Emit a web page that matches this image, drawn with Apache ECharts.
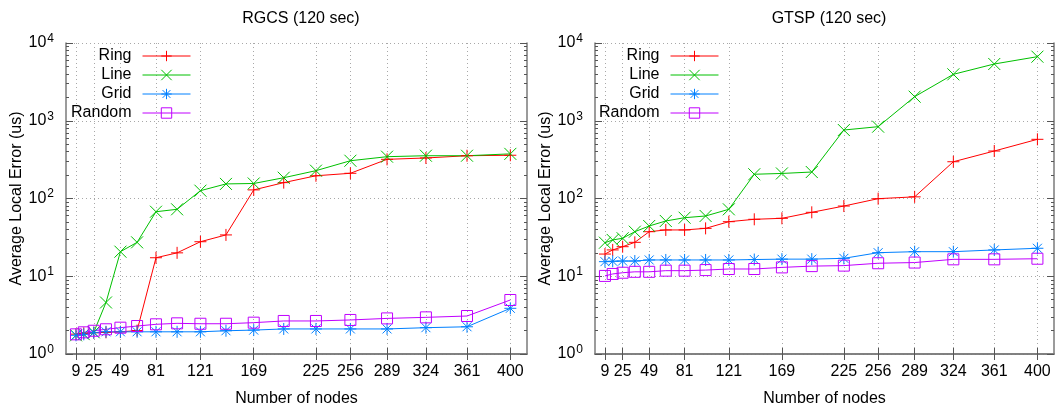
<!DOCTYPE html>
<html>
<head>
<meta charset="utf-8">
<script src="https://cdn.jsdelivr.net/npm/echarts@6/dist/echarts.min.js"></script>
<style>
    html, body { margin: 0; padding: 0; background: #fff; }
    #chart-box { width: 1055px; height: 412px; }
</style>
</head>
<body>
<div id="chart-box"></div>
<script>
// 節點數 (x)
const nodes = [9, 16, 25, 36, 49, 64, 81, 100, 121, 144, 169, 196, 225, 256, 289, 324, 361, 400];
const tickNodes = [9, 25, 49, 81, 121, 169, 225, 256, 289, 324, 361, 400];
const yMinorTicks = [2, 3, 4, 5, 6, 7, 8, 9, 20, 30, 40, 50, 60, 70, 80, 90,
    200, 300, 400, 500, 600, 700, 800, 900, 2000, 3000, 4000, 5000, 6000, 7000, 8000, 9000];

// RGCS (120 sec)
const rgcsRing = [1.8, 1.85, 1.88, 1.9, 1.93, 2.0, 17.3, 20, 27.8, 34, 129, 160, 196, 211, 319, 332, 355, 360];
const rgcsLine = [1.74, 1.8, 1.9, 4.6, 20.7, 27.3, 67.6, 72.6, 126, 154, 156, 185, 228, 306, 345, 355, 355, 375];
const rgcsGrid = [1.74, 1.79, 1.88, 1.93, 1.93, 1.93, 1.93, 1.93, 1.93, 1.99, 2.03, 2.1, 2.1, 2.1, 2.1, 2.18, 2.24, 3.87];
const rgcsRandom = [1.79, 1.9, 1.99, 2.08, 2.18, 2.29, 2.41, 2.48, 2.45, 2.45, 2.53, 2.66, 2.66, 2.74, 2.87, 2.96, 3.08, 4.95];

// GTSP (120 sec)
const gtspRing = [19.3, 21.8, 24, 27.3, 37.4, 39.4, 39.4, 41.3, 50.3, 54, 55.6, 66.4, 80, 99.5, 105, 297, 408, 577];
const gtspLine = [27, 29.3, 30.8, 37.4, 44.3, 51.4, 56.6, 59.6, 72.6, 205, 210, 219, 760, 839, 2040, 3956, 5370, 6670];
const gtspGrid = [15.4, 15.6, 15.7, 15.7, 16.2, 16.2, 16.2, 16.2, 16.2, 16.4, 16.6, 16.6, 17, 20.1, 20.7, 20.7, 21.8, 22.9];
const gtspRandom = [10.1, 10.7, 11.1, 11.4, 11.4, 11.8, 11.8, 12, 12.4, 12.4, 13, 13.5, 13.7, 14.7, 15, 16.5, 16.5, 16.8];

const seriesNames = ['Ring', 'Line', 'Grid', 'Random'];
const panelTitles = ['RGCS (120 sec)', 'GTSP (120 sec)'];

var chartDom = document.getElementById('chart-box');
var myChart = echarts.init(chartDom);
var option;

// gnuplot 風格的點
const markers = {
    Ring: { symbol: 'path://M0,-1 L0,1 M-1,0 L1,0', color: '#ff0000' },
    Line: { symbol: 'path://M-1,-1 L1,1 M-1,1 L1,-1', color: '#00c000' },
    Grid: { symbol: 'path://M0,-1 L0,1 M-1,0 L1,0 M-0.75,-0.75 L0.75,0.75 M-0.75,0.75 L0.75,-0.75', color: '#0080ff' },
    Random: { symbol: 'path://M-1,-1 L1,-1 L1,1 L-1,1 Z', color: '#c000ff' }
};

const fontFamily = '"Liberation Sans", Arial, sans-serif';
const borderColor = '#7a7a7a';
const gridLineStyle = { color: '#a8a8a8', width: 1, type: [1, 3] };

function toPairs(values) {
    return nodes.map((n, i) => [n, values[i]]);
}

const grids = [
    { left: 66, top: 43, width: 461, height: 311 },
    { left: 595, top: 43, width: 459, height: 311 }
];

var xAxes = [];
var yAxes = [];
var series = [];
var legends = [];
var titles = [];

[[rgcsRing, rgcsLine, rgcsGrid, rgcsRandom], [gtspRing, gtspLine, gtspGrid, gtspRandom]].forEach((panel, p) => {
    // 下方 x 軸
    xAxes.push({
        gridIndex: p, type: 'value', min: 0, max: 415, position: 'bottom',
        name: 'Number of nodes', nameLocation: 'middle', nameGap: 37,
        nameTextStyle: { fontSize: 16, color: '#000', fontFamily: fontFamily },
        axisLine: { lineStyle: { color: borderColor, width: 1.5 } },
        axisTick: { inside: true, length: 6, customValues: tickNodes, lineStyle: { color: '#555' } },
        axisLabel: { customValues: tickNodes, margin: 10, fontSize: 16, color: '#000', fontFamily: fontFamily },
        splitLine: { show: true, lineStyle: gridLineStyle }
    });
    // 上方鏡像
    xAxes.push({
        gridIndex: p, type: 'value', min: 0, max: 415, position: 'top',
        axisLine: { lineStyle: { color: borderColor, width: 1.5 } },
        axisTick: { inside: true, length: 6, customValues: tickNodes, lineStyle: { color: '#555' } },
        axisLabel: { show: false },
        splitLine: { show: false }
    });

    // 左側對數軸
    yAxes.push({
        gridIndex: p, type: 'log', logBase: 10, min: 1, max: 10000, position: 'left',
        name: 'Average Local Error (us)', nameLocation: 'middle', nameGap: 40,
        nameTextStyle: { fontSize: 16, color: '#000', fontFamily: fontFamily },
        axisLine: { lineStyle: { color: borderColor, width: 1.5 } },
        axisTick: { inside: true, length: 7, lineStyle: { color: '#555' } },
        axisLabel: {
            margin: 12,
            formatter: function (v) {
                return '{b|10}{s|' + Math.round(Math.log10(v)) + '}';
            },
            rich: {
                b: { fontSize: 16, color: '#000', fontFamily: fontFamily },
                s: { fontSize: 12, color: '#000', fontFamily: fontFamily, padding: [0, 0, 9, 1] }
            }
        },
        splitLine: { show: true, lineStyle: gridLineStyle }
    });
    // 左側小刻度 (log 空間的線性軸)
    yAxes.push({
        gridIndex: p, type: 'value', min: 0, max: 4, position: 'left',
        axisLine: { show: false },
        axisTick: { inside: true, length: 3, customValues: yMinorTicks.map(v => Math.log10(v)), lineStyle: { color: '#555' } },
        axisLabel: { show: false },
        splitLine: { show: false }
    });
    // 右側鏡像
    yAxes.push({
        gridIndex: p, type: 'log', logBase: 10, min: 1, max: 10000, position: 'right',
        axisLine: { lineStyle: { color: borderColor, width: 1.5 } },
        axisTick: { inside: true, length: 7, lineStyle: { color: '#555' } },
        axisLabel: { show: false },
        splitLine: { show: false }
    });
    yAxes.push({
        gridIndex: p, type: 'value', min: 0, max: 4, position: 'right',
        axisLine: { show: false },
        axisTick: { inside: true, length: 3, customValues: yMinorTicks.map(v => Math.log10(v)), lineStyle: { color: '#555' } },
        axisLabel: { show: false },
        splitLine: { show: false }
    });

    panel.forEach((values, k) => {
        var m = markers[seriesNames[k]];
        series.push({
            name: seriesNames[k],
            type: 'line',
            xAxisIndex: p * 2,
            yAxisIndex: p * 4,
            data: toPairs(values),
            symbol: m.symbol,
            symbolSize: k === 3 ? 11 : 12,
            showAllSymbol: true,
            lineStyle: { color: m.color, width: 1 },
            itemStyle: { color: 'rgba(0,0,0,0)', borderColor: m.color, borderWidth: 1 },
            emphasis: { disabled: true },
            animation: false
        });
    });

    legends.push({
        orient: 'vertical',
        align: 'right',
        right: p === 0 ? 864 : 336,
        top: 48,
        padding: 0,
        itemWidth: 48,
        itemHeight: 13,
        itemGap: 3,
        data: seriesNames,
        lineStyle: { width: 1 },
        itemStyle: { borderWidth: 1 },
        textStyle: { fontSize: 16, color: '#000', fontFamily: fontFamily, padding: [0, 6, 0, 0] }
    });

    titles.push({
        text: panelTitles[p],
        left: p === 0 ? 296 : 824,
        textAlign: 'center',
        top: 6,
        textStyle: { fontSize: 16, fontWeight: 'normal', color: '#000', fontFamily: fontFamily }
    });
});

option = {
    backgroundColor: '#fff',
    animation: false,
    title: titles,
    legend: legends,
    grid: grids,
    xAxis: xAxes,
    yAxis: yAxes,
    series: series
};

option && myChart.setOption(option);
</script>
</body>
</html>
